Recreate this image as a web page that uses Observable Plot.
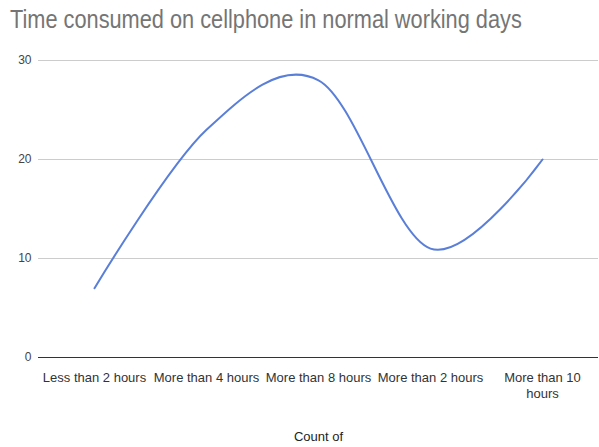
<!DOCTYPE html>
<html>
<head>
<meta charset="utf-8">
<script src="https://cdn.jsdelivr.net/npm/d3@7"></script>
<script src="https://cdn.jsdelivr.net/npm/@observablehq/plot@0.6"></script>
<style>
  html, body { margin: 0; padding: 0; background: #fff; }
  #title {
    font-family: "Liberation Sans", Arial, sans-serif;
    font-size: 25px;
    color: #757575;
    height: 48px;
    line-height: 25px;
    padding: 7px 0 0 10px;
    box-sizing: border-box;
    white-space: nowrap;
  }
  #title span {
    display: inline-block;
    transform: scaleX(0.87);
    transform-origin: left center;
  }
</style>
</head>
<body>
<div id="title"><span>Time consumed on cellphone in normal working days</span></div>
<div id="chart"></div>
<script>
// Responses grouped by daily phone use
const categories = [
  "Less than 2 hours",
  "More than 4 hours",
  "More than 8 hours",
  "More than 2 hours",
  "More than 10 hours"
];
const counts = [7, 23, 28, 11, 20];
const yTicks = [0, 10, 20, 30];
const xTickLabels = [
  "Less than 2 hours",
  "More than 4 hours",
  "More than 8 hours",
  "More than 2 hours",
  "More than 10\nhours"
];

const data = categories.map((c, i) => ({category: c, count: counts[i]}));
const labelFor = new Map(categories.map((c, i) => [c, xTickLabels[i]]));

const chart = Plot.plot({
  width: 599,
  height: 399,
  marginTop: 12,
  marginBottom: 90,
  marginLeft: 38,
  marginRight: 1,
  style: {fontFamily: "'Liberation Sans', Arial, sans-serif", fontSize: "13px", color: "#444"},
  x: {type: "point", domain: categories, padding: 0.5, label: null},
  y: {domain: [0, 30], label: null},
  marks: [
    Plot.ruleY(yTicks.filter(d => d > 0), {stroke: "#ccc", strokeWidth: 1}),
    Plot.ruleY([0], {stroke: "#333", strokeWidth: 1}),
    Plot.axisY({ticks: yTicks, tickSize: 0, tickPadding: 7, fontSize: 12, label: null}),
    Plot.axisX({tickSize: 0, tickPadding: 13, fontSize: 13, tickFormat: d => labelFor.get(d), lineHeight: 1.25, label: null, fill: "#333"}),
    Plot.line(data, {x: "category", y: "count", curve: "cardinal", stroke: "#5a7fd8", strokeWidth: 2}),
    Plot.text(["Count of"], {frameAnchor: "bottom", dy: 83, fontSize: 13, fill: "#222"})
  ]
});
document.getElementById("chart").appendChild(chart);
</script>
</body>
</html>
